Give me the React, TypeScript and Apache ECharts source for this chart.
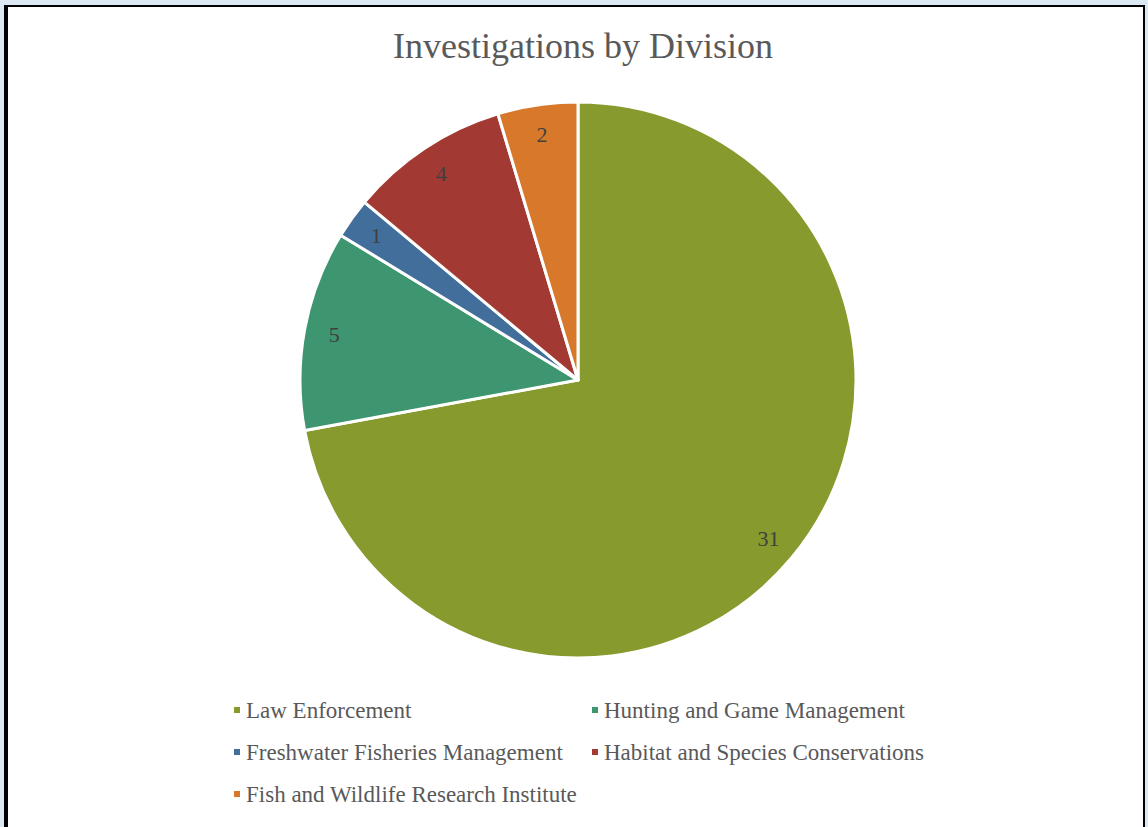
import React, { useEffect, useRef } from "react";
import * as echarts from "echarts";

const categories = [
  "Law Enforcement",
  "Hunting and Game Management",
  "Freshwater Fisheries Management",
  "Habitat and Species Conservations",
  "Fish and Wildlife Research Institute",
];
const values = [31, 5, 1, 4, 2];
const colors = ["#879A2D", "#3D9670", "#426E9B", "#A23A33", "#D8782A"];

const FONT = "'Liberation Serif', 'DejaVu Serif', serif";

export default function App() {
  const ref = useRef<HTMLDivElement>(null);
  useEffect(() => {
    if (!ref.current) return;
    const chart = echarts.init(ref.current, undefined, { renderer: "svg" });
    const data = categories.map((name, i) => ({
      name,
      value: values[i],
      itemStyle: { color: colors[i] },
    }));
    const legendBase = {
      orient: "vertical",
      icon: "rect",
      itemWidth: 8,
      itemHeight: 8,
      itemGap: 10,
      top: 682,
      textStyle: {
        fontFamily: FONT,
        fontSize: 23,
        color: "#595959",
        lineHeight: 32,
      },
    };
    chart.setOption({
      animation: false,
      title: {
        text: "Investigations by Division",
        left: 570,
        textAlign: "center",
        top: 16,
        textStyle: { fontFamily: FONT, fontSize: 36, fontWeight: "normal", color: "#595959" },
      },
      legend: [
        { ...legendBase, left: 219, data: [categories[0], categories[2], categories[4]] },
        { ...legendBase, left: 577, data: [categories[1], categories[3]] },
      ],
      series: [
        {
          type: "pie",
          center: [570, 373],
          radius: 278,
          startAngle: 90,
          clockwise: true,
          label: { show: false },
          labelLine: { show: false },
          itemStyle: { borderColor: "#ffffff", borderWidth: 3 },
          emphasis: { disabled: true },
          data,
        },
        {
          type: "pie",
          center: [570, 373],
          radius: [212, 278],
          startAngle: 90,
          clockwise: true,
          silent: true,
          legendHoverLink: false,
          label: {
            show: true,
            position: "inside",
            formatter: "{c}",
            fontFamily: FONT,
            fontSize: 22,
            color: "#404040",
          },
          labelLine: { show: false },
          itemStyle: { color: "transparent", borderWidth: 0 },
          emphasis: { disabled: true },
          data: categories.map((name, i) => ({ name, value: values[i] })),
        },
      ],
    });
    return () => chart.dispose();
  }, []);
  return (
    <div
      style={{
        position: "absolute",
        left: 0,
        top: 0,
        width: 1148,
        height: 827,
        background: "#dde8f5",
        overflow: "hidden",
      }}
    >
      <div
        style={{
          position: "absolute",
          left: 4,
          top: 5,
          width: 1141,
          height: 830,
          background: "#ffffff",
          borderLeft: "4px solid #000",
          borderTop: "2px solid #000",
          borderRight: "2px solid #000",
          boxSizing: "border-box",
        }}
      >
        <div ref={ref} style={{ position: "absolute", left: 0, top: 0, width: 1135, height: 828 }} />
      </div>
    </div>
  );
}
